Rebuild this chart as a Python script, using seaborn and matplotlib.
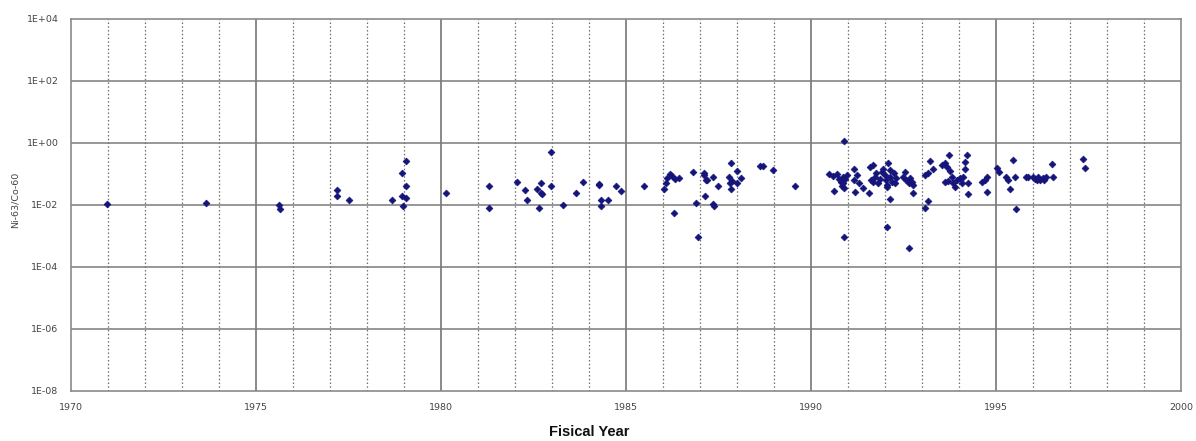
import matplotlib
matplotlib.use("Agg")
import matplotlib.pyplot as plt
import seaborn as sns
import pandas as pd

# ---- data ----
fiscal_year = [
    1970.97, 1973.65, 1975.63, 1975.65,
    1977.18, 1977.18, 1977.50, 1978.68, 1978.96, 1978.94, 1979.05, 1979.05, 1978.95, 1979.05,
    1980.14, 1981.29, 1981.31, 1982.06, 1982.27, 1982.32, 1982.60, 1982.69, 1982.69, 1982.72,
    1982.66, 1982.98, 1982.98,
    1983.31, 1983.64, 1983.83, 1984.28, 1984.28, 1984.32, 1984.32, 1984.50, 1984.72, 1984.86,
    1985.49, 1986.04, 1986.08, 1986.10, 1986.19, 1986.25, 1986.32, 1986.43, 1986.30,
    1986.82, 1986.89, 1986.95, 1987.11, 1987.12, 1987.16, 1987.20, 1987.36, 1987.14, 1987.36,
    1987.37, 1987.48, 1987.83, 1987.78, 1987.81, 1987.83, 1987.86, 1987.99, 1988.01, 1988.12,
    1988.62, 1988.69, 1988.96, 1989.56,
    1990.90, 1990.90, 1990.49, 1990.60, 1990.71, 1990.77, 1990.80, 1990.86, 1990.87, 1990.84,
    1990.89, 1990.63, 1990.91, 1990.96, 1991.16, 1991.16, 1991.23, 1991.19, 1991.31, 1991.41,
    1991.59, 1991.67, 1991.61, 1991.58, 1991.68, 1991.73, 1991.77, 1991.82, 1991.86, 1991.91,
    1991.95, 1992.00, 1992.03, 1992.05, 1992.05, 1992.09, 1992.14, 1992.14, 1992.18, 1992.23,
    1992.27, 1992.31, 1992.14, 1992.06,
    1992.54, 1992.49, 1992.58, 1992.68, 1992.66, 1992.72, 1992.77, 1992.77, 1992.66,
    1993.08, 1993.17, 1993.08, 1993.17, 1993.22, 1993.31, 1993.53, 1993.62, 1993.74, 1993.67,
    1993.76, 1993.80, 1993.62, 1993.71, 1993.85, 1993.94, 1993.89, 1994.03, 1994.07, 1994.12,
    1994.16, 1994.16, 1994.21, 1994.25, 1994.25, 1994.61, 1994.70, 1994.76, 1994.75,
    1995.02, 1995.09, 1995.27, 1995.33, 1995.38, 1995.51, 1995.54, 1995.45,
    1995.81, 1995.87, 1996.01, 1996.05, 1996.10, 1996.14, 1996.19, 1996.26, 1996.30, 1996.35,
    1996.50, 1996.53, 1997.36, 1997.41,
]
ni63_co60 = [
    0.011, 0.012, 0.010, 0.0074,
    0.030, 0.019, 0.014, 0.015, 0.0095, 0.020, 0.017, 0.042, 0.11, 0.27,
    0.025, 0.042, 0.0083, 0.056, 0.030, 0.015, 0.032, 0.050, 0.025, 0.022,
    0.0083, 0.51, 0.040,
    0.010, 0.025, 0.056, 0.049, 0.043, 0.015, 0.0095, 0.015, 0.042, 0.028,
    0.040, 0.032, 0.052, 0.072, 0.10, 0.085, 0.071, 0.072, 0.0056,
    0.12, 0.012, 0.00093, 0.105, 0.095, 0.065, 0.063, 0.078, 0.019, 0.011,
    0.0095, 0.040, 0.23, 0.078, 0.052, 0.034, 0.059, 0.052, 0.126, 0.072,
    0.18, 0.18, 0.13, 0.042,
    1.2, 0.00093, 0.098, 0.087, 0.10, 0.068, 0.056, 0.081, 0.050, 0.041,
    0.035, 0.029, 0.068, 0.093, 0.145, 0.065, 0.093, 0.027, 0.050, 0.035,
    0.17, 0.19, 0.065, 0.024, 0.056, 0.081, 0.105, 0.050, 0.068, 0.117,
    0.15, 0.093, 0.065, 0.045, 0.037, 0.22, 0.135, 0.081, 0.056, 0.105,
    0.050, 0.072, 0.0155, 0.0020,
    0.117, 0.081, 0.065, 0.072, 0.050, 0.056, 0.045, 0.024, 0.0004,
    0.0078, 0.013, 0.093, 0.105, 0.26, 0.15, 0.20, 0.22, 0.41, 0.17,
    0.126, 0.081, 0.056, 0.060, 0.050, 0.065, 0.039, 0.072, 0.050, 0.081,
    0.15, 0.25, 0.41, 0.050, 0.022, 0.055, 0.065, 0.081, 0.026,
    0.16, 0.117, 0.081, 0.065, 0.032, 0.081, 0.0074, 0.29,
    0.078, 0.081, 0.081, 0.068, 0.062, 0.078, 0.065, 0.072, 0.065, 0.081,
    0.21, 0.081, 0.30, 0.16,
]
x_ticks = [1970, 1975, 1980, 1985, 1990, 1995, 2000]
y_ticks = [1e4, 1e2, 1e0, 1e-2, 1e-4, 1e-6, 1e-8]
y_tick_labels = ["1E+04", "1E+02", "1E+00", "1E-02", "1E-04", "1E-06", "1E-08"]

df = pd.DataFrame({"year": fiscal_year, "ratio": ni63_co60})

sns.set_style("white")
plt.rcParams["font.family"] = ["DejaVu Sans"]

fig = plt.figure(figsize=(11.96, 4.41), dpi=100)
ax = fig.add_axes([71 / 1196, 1 - 391 / 441, (1181 - 71) / 1196, (391 - 19) / 441])

ax.set_yscale("log")
ax.set_xlim(1970, 2000)
ax.set_ylim(1e-8, 1e4)

# grid: dotted yearly verticals, solid 5-year verticals, solid horizontal every 2 decades
for yr in range(1971, 2000):
    if yr % 5 != 0:
        ax.axvline(yr, color="#6e6e6e", lw=0.9, ls=(0, (1.2, 1.8)), zorder=1)
for yr in x_ticks[1:-1]:
    ax.axvline(yr, color="#6a6a6a", lw=1.1, zorder=1)
for v in y_ticks[1:-1]:
    ax.axhline(v, color="#7a7a7a", lw=1.1, zorder=1)

sns.scatterplot(data=df, x="year", y="ratio", ax=ax, marker="D", s=12,
                color="#14147a", edgecolor="#14147a", linewidth=0.5, zorder=3,
                legend=False)

ax.set_xticks(x_ticks)
ax.set_xticklabels([str(t) for t in x_ticks], fontsize=6.8, color="#444444")
ax.set_yticks(y_ticks)
ax.set_yticklabels(y_tick_labels, fontsize=6.8, color="#444444")
ax.minorticks_off()
ax.tick_params(axis="both", length=0)
ax.tick_params(axis="y", pad=9)
ax.tick_params(axis="x", pad=9)

for sp in ax.spines.values():
    sp.set_color("#8a8a8a")
    sp.set_linewidth(1.2)

ax.set_xlabel("")
ax.set_ylabel("")
fig.text(15 / 1196, 1 - 200 / 441, "Ni-63/Co-60", rotation=90, ha="center", va="center",
         fontsize=6.8, color="#444444")
fig.text(589 / 1196, 1 - 432 / 441, "Fisical Year", ha="center", va="center",
         fontsize=10.5, color="#111111", family=["Liberation Sans", "DejaVu Sans"],
         fontweight="bold")

fig.savefig("out.png", dpi=100)
